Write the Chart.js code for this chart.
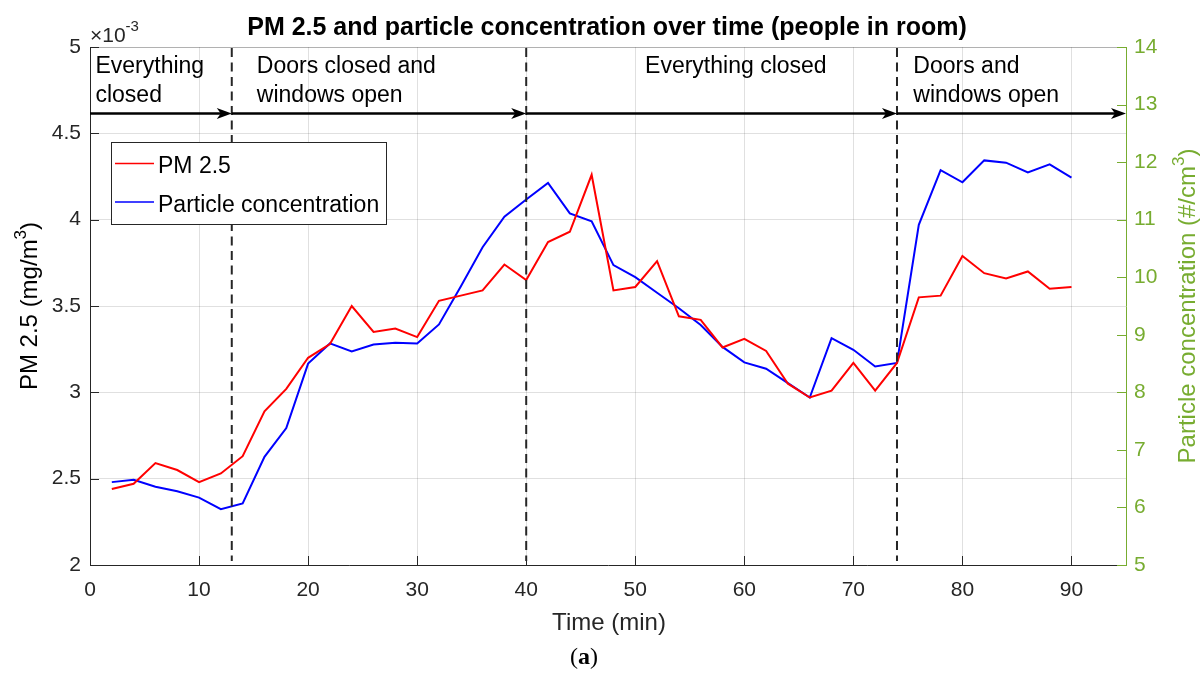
<!DOCTYPE html>
<html>
<head>
<meta charset="utf-8">
<title>PM 2.5 and particle concentration over time</title>
<script src="https://cdn.jsdelivr.net/npm/chart.js@4.4.1/dist/chart.umd.min.js"></script>
<style>
  html, body { margin: 0; padding: 0; background: #fff; }
</style>
</head>
<body>
<canvas id="myChart" width="1203" height="675"></canvas>
<script>
// readings every 2 minutes
const timeMin = [2, 4, 6, 8, 10, 12, 14, 16, 18, 20, 22, 24, 26, 28, 30, 32, 34, 36, 38, 40,
  42, 44, 46, 48, 50, 52, 54, 56, 58, 60, 62, 64, 66, 68, 70, 72, 74, 76, 78, 80,
  82, 84, 86, 88, 90];
// PM 2.5 in units of 1e-3 mg/m3
const pm25 = [2.44, 2.47, 2.59, 2.55, 2.48, 2.53, 2.63, 2.89, 3.02, 3.20, 3.28, 3.50,
  3.35, 3.37, 3.32, 3.53, 3.56, 3.59, 3.74, 3.65, 3.87, 3.93, 4.26,
  3.59, 3.61, 3.76, 3.44, 3.42, 3.26, 3.31, 3.24, 3.05, 2.97, 3.01, 3.17, 3.01, 3.17,
  3.55, 3.56, 3.79, 3.69, 3.66, 3.70, 3.60, 3.61];
// particle concentration in #/cm3
const particles = [6.44, 6.48, 6.36, 6.28, 6.17, 5.97, 6.07, 6.88, 7.38, 8.50, 8.85, 8.71,
  8.83, 8.86, 8.85, 9.18, 9.84, 10.52, 11.05, 11.35, 11.64, 11.11, 10.97,
  10.21, 10.00, 9.73, 9.46, 9.17, 8.79, 8.52, 8.41, 8.16, 7.91, 8.94, 8.74, 8.45, 8.51,
  10.91, 11.86, 11.65, 12.03, 11.99, 11.82, 11.96, 11.73];

const xTicks = [0, 10, 20, 30, 40, 50, 60, 70, 80, 90];
const pmTicks = [2, 2.5, 3, 3.5, 4, 4.5, 5];
const particleTicks = [5, 6, 7, 8, 9, 10, 11, 12, 13, 14];

// room phases
const phaseStart = [0, 13, 40, 74];
const phaseEnd = [13, 40, 74, 95];
const phaseLabels = [
  ["Everything", "closed"],
  ["Doors closed and", "windows open"],
  ["Everything closed"],
  ["Doors and", "windows open"],
];
const phaseLabelAt = [0.5, 15.3, 50.9, 75.5];
const arrowLevel = 4.615;

const FONT = '"Liberation Sans", Arial, Helvetica, sans-serif';
const INK = "#262626";
const GREEN = "#77AC30";
const GRID = "rgba(38,38,38,0.14)";

function drawRich(ctx, parts, x, y, align) {
  let w = 0;
  parts.forEach((p) => {
    ctx.font = p.font;
    w += ctx.measureText(p.text).width;
  });
  let cx = align === "center" ? x - w / 2 : x;
  ctx.textAlign = "left";
  ctx.textBaseline = "alphabetic";
  parts.forEach((p) => {
    ctx.font = p.font;
    ctx.fillText(p.text, cx, y + (p.dy || 0));
    cx += ctx.measureText(p.text).width;
  });
}

function drawArrow(ctx, x0, x1, yy) {
  ctx.beginPath();
  ctx.moveTo(x0, yy);
  ctx.lineTo(x1 - 10, yy);
  ctx.stroke();
  ctx.beginPath();
  ctx.moveTo(x1, yy);
  ctx.lineTo(x1 - 15, yy - 5.5);
  ctx.lineTo(x1 - 11, yy);
  ctx.lineTo(x1 - 15, yy + 5.5);
  ctx.closePath();
  ctx.fill();
}

const decorations = {
  id: "decorations",
  afterDraw(chart) {
    const { ctx, chartArea: a } = chart;
    const { x, y, y1 } = chart.scales;
    ctx.save();

    // top edge of the box
    ctx.strokeStyle = "rgba(38,38,38,0.25)";
    ctx.lineWidth = 1;
    ctx.beginPath();
    ctx.moveTo(a.left, a.top + 0.5);
    ctx.lineTo(a.right, a.top + 0.5);
    ctx.stroke();

    // inward ticks
    ctx.strokeStyle = INK;
    xTicks.forEach((v) => {
      const px = Math.round(x.getPixelForValue(v)) + 0.5;
      ctx.beginPath();
      ctx.moveTo(px, a.bottom);
      ctx.lineTo(px, a.bottom - 9);
      ctx.stroke();
    });
    pmTicks.forEach((v) => {
      const py = Math.round(y.getPixelForValue(v)) + 0.5;
      ctx.beginPath();
      ctx.moveTo(a.left, py);
      ctx.lineTo(a.left + 9, py);
      ctx.stroke();
    });
    ctx.strokeStyle = GREEN;
    particleTicks.forEach((v) => {
      const py = Math.round(y1.getPixelForValue(v)) + 0.5;
      ctx.beginPath();
      ctx.moveTo(a.right, py);
      ctx.lineTo(a.right - 9, py);
      ctx.stroke();
    });

    // phase boundaries
    ctx.strokeStyle = INK;
    ctx.lineWidth = 2;
    ctx.setLineDash([9, 5.5]);
    phaseStart.slice(1).forEach((v) => {
      const px = x.getPixelForValue(v);
      ctx.beginPath();
      ctx.moveTo(px, a.top + 1);
      ctx.lineTo(px, a.bottom - 4);
      ctx.stroke();
    });
    ctx.setLineDash([]);

    // arrows
    ctx.strokeStyle = "#000";
    ctx.fillStyle = "#000";
    ctx.lineWidth = 2.5;
    const ay = y.getPixelForValue(arrowLevel);
    phaseStart.forEach((v, i) => {
      drawArrow(ctx, x.getPixelForValue(v), x.getPixelForValue(phaseEnd[i]), ay);
    });

    // phase labels
    ctx.fillStyle = "#000";
    ctx.font = "23px " + FONT;
    ctx.textAlign = "left";
    ctx.textBaseline = "alphabetic";
    phaseLabels.forEach((lines, i) => {
      const px = x.getPixelForValue(phaseLabelAt[i]);
      lines.forEach((t, k) => ctx.fillText(t, px, 72.7 + k * 29));
    });

    // legend
    const lx = 111.5, ly = 142.5, lw = 275, lh = 82;
    ctx.fillStyle = "#fff";
    ctx.fillRect(lx, ly, lw, lh);
    ctx.strokeStyle = INK;
    ctx.lineWidth = 1;
    ctx.strokeRect(lx, ly, lw, lh);
    chart.data.datasets.forEach((ds, i) => {
      const rowY = 163.5 + i * 38.5;
      ctx.strokeStyle = ds.borderColor;
      ctx.lineWidth = 1.5;
      ctx.beginPath();
      ctx.moveTo(115, rowY);
      ctx.lineTo(154, rowY);
      ctx.stroke();
      ctx.fillStyle = "#000";
      ctx.font = "23px " + FONT;
      ctx.fillText(ds.label, 158, rowY + 9.8);
    });

    // title
    ctx.fillStyle = "#000";
    ctx.font = "bold 25px " + FONT;
    ctx.textAlign = "center";
    ctx.fillText("PM 2.5 and particle concentration over time (people in room)", 607, 35);

    // exponent of left axis
    ctx.fillStyle = INK;
    drawRich(ctx, [
      { text: "\u00d710", font: "21px " + FONT },
      { text: "-3", font: "15px " + FONT, dy: -11 },
    ], 90, 41.5, "left");

    // x axis title
    ctx.fillStyle = INK;
    ctx.font = "24px " + FONT;
    ctx.textAlign = "center";
    ctx.fillText("Time (min)", 609, 630);

    // (a)
    ctx.fillStyle = "#000";
    drawRich(ctx, [
      { text: "(", font: "24px \"Liberation Serif\", serif" },
      { text: "a", font: "bold 24px \"Liberation Serif\", serif" },
      { text: ")", font: "24px \"Liberation Serif\", serif" },
    ], 584, 664, "center");

    // left axis title
    ctx.save();
    ctx.translate(37, 306);
    ctx.rotate(-Math.PI / 2);
    ctx.fillStyle = "#000";
    drawRich(ctx, [
      { text: "PM 2.5 (mg/m", font: "24px " + FONT },
      { text: "3", font: "17px " + FONT, dy: -11 },
      { text: ")", font: "24px " + FONT },
    ], 0, 0, "center");
    ctx.restore();

    // right axis title
    ctx.save();
    ctx.translate(1195, 306);
    ctx.rotate(-Math.PI / 2);
    ctx.fillStyle = GREEN;
    drawRich(ctx, [
      { text: "Particle concentration (#/cm", font: "24px " + FONT },
      { text: "3", font: "17px " + FONT, dy: -11 },
      { text: ")", font: "24px " + FONT },
    ], 0, 0, "center");
    ctx.restore();

    ctx.restore();
  },
};

const plainTick = (value) => String(value);

const ctx = document.getElementById("myChart").getContext("2d");
new Chart(ctx, {
  type: "line",
  data: {
    datasets: [
      {
        label: "PM 2.5",
        data: timeMin.map((t, i) => ({ x: t, y: pm25[i] })),
        borderColor: "#FF0000",
        yAxisID: "y",
      },
      {
        label: "Particle concentration",
        data: timeMin.map((t, i) => ({ x: t, y: particles[i] })),
        borderColor: "#0000FF",
        yAxisID: "y1",
      },
    ],
  },
  options: {
    responsive: false,
    animation: false,
    layout: { padding: { top: 47 } },
    elements: {
      point: { radius: 0 },
      line: { borderWidth: 2, tension: 0, fill: false },
    },
    plugins: {
      legend: { display: false },
      tooltip: { enabled: false },
    },
    scales: {
      x: {
        type: "linear",
        min: 0,
        max: 95,
        afterBuildTicks: (s) => { s.ticks = xTicks.map((v) => ({ value: v })); },
        afterFit: (s) => { s.height = 110; },
        ticks: { padding: 13, color: INK, maxRotation: 0, callback: plainTick, font: { family: FONT, size: 21 } },
        grid: { color: GRID, drawTicks: false },
        border: { color: INK, width: 1 },
      },
      y: {
        position: "left",
        min: 2,
        max: 5,
        afterBuildTicks: (s) => { s.ticks = pmTicks.map((v) => ({ value: v })); },
        afterFit: (s) => { s.width = 90; },
        ticks: { padding: 9, color: INK, callback: plainTick, font: { family: FONT, size: 21 } },
        grid: { color: GRID, drawTicks: false },
        border: { color: INK, width: 1 },
      },
      y1: {
        position: "right",
        min: 5,
        max: 14,
        afterBuildTicks: (s) => { s.ticks = particleTicks.map((v) => ({ value: v })); },
        afterFit: (s) => { s.width = 77; },
        ticks: { padding: 8, color: GREEN, callback: plainTick, font: { family: FONT, size: 21 } },
        grid: { drawOnChartArea: false, drawTicks: false },
        border: { color: GREEN, width: 1 },
      },
    },
  },
  plugins: [decorations],
});
</script>
</body>
</html>
